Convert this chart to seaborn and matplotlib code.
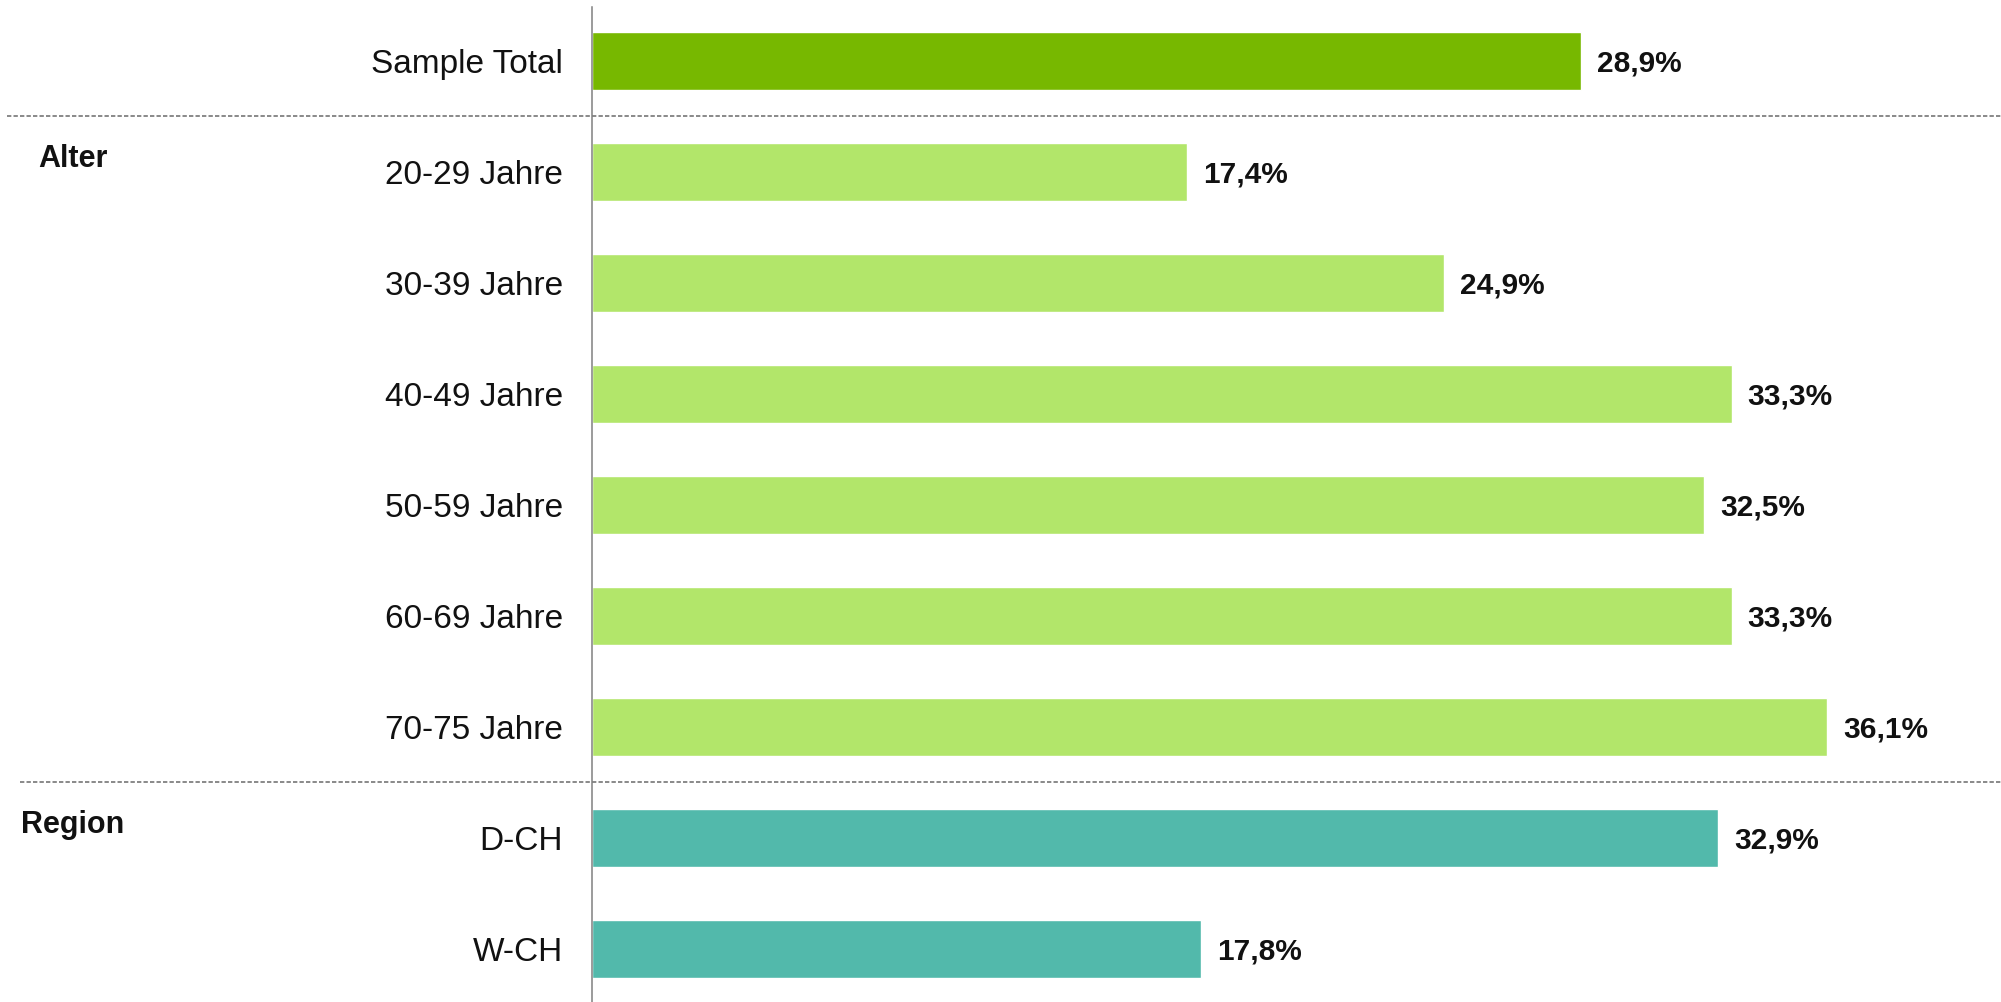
import matplotlib
matplotlib.use("Agg")
import matplotlib.pyplot as plt
import matplotlib.transforms as mtransforms
from matplotlib.lines import Line2D
import seaborn as sns
import pandas as pd

categories = ["Sample Total", "20-29 Jahre", "30-39 Jahre", "40-49 Jahre",
              "50-59 Jahre", "60-69 Jahre", "70-75 Jahre", "D-CH", "W-CH"]
values = [28.9, 17.4, 24.9, 33.3, 32.5, 33.3, 36.1, 32.9, 17.8]
groups = ["Total", "Alter", "Alter", "Alter", "Alter", "Alter", "Alter",
          "Region", "Region"]
group_labels = ["Alter", "Region"]
palette = {"Total": "#77B800", "Alter": "#B2E66A", "Region": "#52B9AB"}

df = pd.DataFrame({"category": categories, "value": values, "group": groups})

sns.set_theme(style="white")
plt.rcParams["font.family"] = ["Liberation Sans", "DejaVu Sans"]

W, H = 2001, 1002
fig = plt.figure(figsize=(W / 100, H / 100), dpi=100)
ax = fig.add_axes([592 / W, 0.0, 1 - 592 / W, (H - 7) / H])

sns.barplot(data=df, x="value", y="category", hue="group", palette=palette,
            order=categories, orient="h", dodge=False, width=0.53,
            legend=False, saturation=1, ax=ax)

ax.set_xlim(0, 41.17)
ax.set_ylim(8.478, -0.486)
ax.set_xlabel("")
ax.set_ylabel("")
ax.set_xticks([])
for s in ["top", "right", "bottom"]:
    ax.spines[s].set_visible(False)
ax.spines["left"].set_color("#808080")
ax.spines["left"].set_linewidth(1.1)
ax.tick_params(axis="y", length=0, pad=21, labelsize=24, labelcolor="#111111")

for i, v in enumerate(values):
    ax.annotate(f"{v:.1f}".replace(".", ",") + "%", xy=(v, i),
                xytext=(11.5, -1.8), textcoords="offset points",
                ha="left", va="center", fontsize=21.5, fontweight="bold",
                color="#111111")

# group separators and labels
trans = mtransforms.blended_transform_factory(fig.transFigure, ax.transData)
seps = []
for g in group_labels:
    first = groups.index(g)
    seps.append(first)
    ax.text(73 / W, first - 0.115, g, transform=trans, ha="center", va="center",
            fontsize=22, fontweight="bold", color="#111111")

starts = [7 / W, 20 / W]
for k, first in enumerate(seps):
    y = first - 0.5
    line = Line2D([starts[k], 1.0], [y, y], transform=trans, color="#808080",
                  linewidth=1.3, linestyle=(0, (2.4, 1.2)), clip_on=False)
    fig.add_artist(line)

fig.savefig("out.png", dpi=100)
